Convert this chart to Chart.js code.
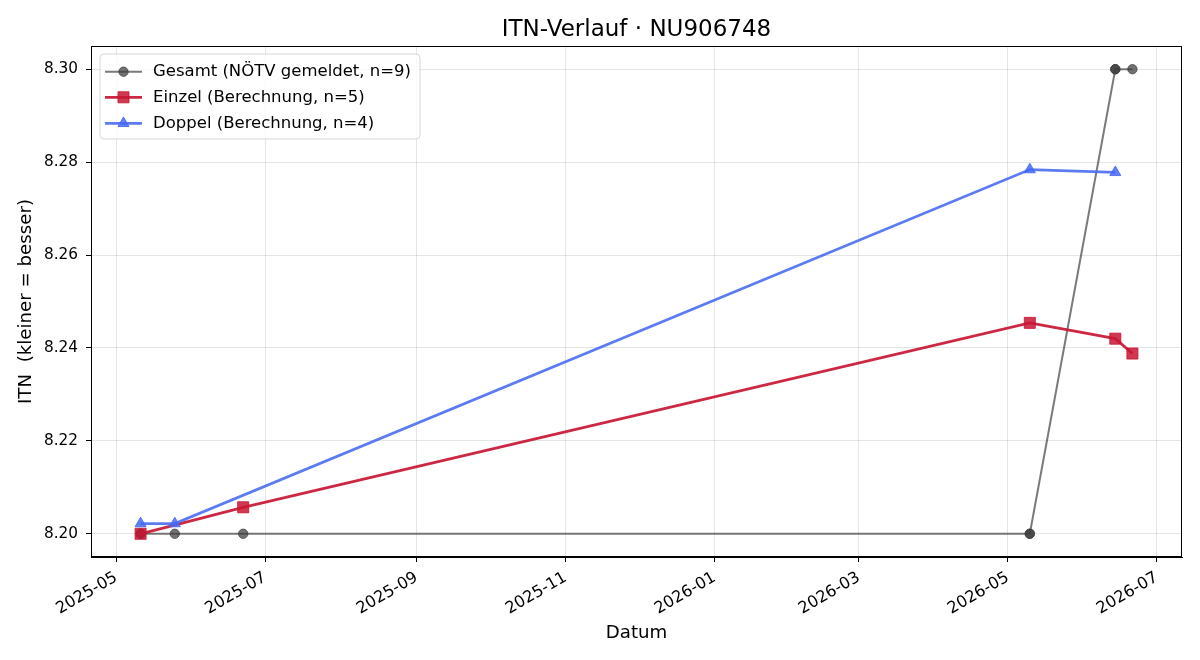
<!DOCTYPE html>
<html>
<head>
<meta charset="utf-8">
<title>ITN-Verlauf</title>
<script src="https://cdn.jsdelivr.net/npm/chart.js@4"></script>
<style>
  html, body { margin: 0; padding: 0; background: #fff; }
  #wrap { width: 1200px; height: 660px; }
</style>
</head>
<body>
<div id="wrap"><canvas id="chart" width="1200" height="660"></canvas></div>
<script>
// Werte
const titel = 'ITN-Verlauf · NU906748';

const gesamtDaten = ['2025-05-11', '2025-05-11', '2025-05-25', '2025-06-22', '2026-05-10', '2026-05-10', '2026-06-14', '2026-06-14', '2026-06-21'];
const gesamtWerte = [8.20, 8.20, 8.20, 8.20, 8.20, 8.20, 8.30, 8.30, 8.30];

const einzelDaten = ['2025-05-11', '2025-06-22', '2026-05-10', '2026-06-14', '2026-06-21'];
const einzelWerte = [8.2000, 8.2057, 8.2454, 8.2420, 8.2388];

const doppelDaten = ['2025-05-11', '2025-05-25', '2026-05-10', '2026-06-14'];
const doppelWerte = [8.2022, 8.2022, 8.2784, 8.2778];

const xTickLabels = ['2025-05', '2025-07', '2025-09', '2025-11', '2026-01', '2026-03', '2026-05', '2026-07'];
const yTicks = [8.20, 8.22, 8.24, 8.26, 8.28, 8.30];

const FONT = "'DejaVu Sans', 'Liberation Sans', sans-serif";

function zuMs(s) {
    return Date.parse(s + 'T00:00:00Z');
}

function punkte(daten, werte) {
    return daten.map((d, i) => ({ x: zuMs(d), y: werte[i] }));
}

// matplotlib-artige Ränder: 5% auf beiden Seiten
const alleX = [...gesamtDaten, ...einzelDaten, ...doppelDaten].map(zuMs);
const xLo = Math.min(...alleX);
const xHi = Math.max(...alleX);
const xRand = (xHi - xLo) * 0.05;
const alleY = [...gesamtWerte, ...einzelWerte, ...doppelWerte];
const yLo = Math.min(...alleY);
const yHi = Math.max(...alleY);
const yRand = (yHi - yLo) * 0.05;

const serien = [
    { label: 'Gesamt (NÖTV gemeldet, n=9)', linie: 'rgba(70,70,70,0.72)', punkt: 'rgba(60,60,60,0.72)', breite: 2, stil: 'circle', radius: 4.7 },
    { label: 'Einzel (Berechnung, n=5)', linie: 'rgba(200,22,52,0.92)', punkt: 'rgba(200,22,52,0.85)', breite: 2.8, stil: 'rect', radius: 7.8 },
    { label: 'Doppel (Berechnung, n=4)', linie: 'rgba(70,105,240,0.88)', punkt: 'rgba(70,105,240,0.85)', breite: 2.8, stil: 'triangle', radius: 6.4 }
];

// Legende oben links im Plotbereich, wie bei matplotlib
const legendePlugin = {
    id: 'legende',
    afterDraw(chart) {
        const ctx = chart.ctx;
        const x0 = 100, y0 = 54, w = 320, h = 85;
        ctx.save();
        ctx.beginPath();
        ctx.roundRect(x0, y0, w, h, 4);
        ctx.fillStyle = 'rgba(255,255,255,0.8)';
        ctx.fill();
        ctx.strokeStyle = '#d6d6d6';
        ctx.lineWidth = 1;
        ctx.stroke();
        const zeilen = [71.7, 97.3, 123.3];
        serien.forEach((s, i) => {
            const y = zeilen[i];
            ctx.beginPath();
            ctx.moveTo(105, y);
            ctx.lineTo(142, y);
            ctx.strokeStyle = s.linie;
            ctx.lineWidth = s.breite;
            ctx.stroke();
            ctx.fillStyle = s.punkt;
            ctx.strokeStyle = s.punkt;
            ctx.lineWidth = 1;
            Chart.helpers.drawPoint(ctx, { pointStyle: s.stil, radius: s.radius, borderWidth: 1 }, 123.5, y);
            ctx.fillStyle = '#000';
            ctx.font = '16.5px ' + FONT;
            ctx.textBaseline = 'middle';
            ctx.textAlign = 'left';
            ctx.fillText(s.label, 153, y);
        });
        ctx.restore();
    }
};

// Titel und Rahmen um den Plotbereich
const rahmenPlugin = {
    id: 'rahmen',
    afterDraw(chart) {
        const { ctx, chartArea: a } = chart;
        ctx.save();
        ctx.strokeStyle = '#000';
        ctx.lineWidth = 1;
        ctx.strokeRect(a.left + 0.5, a.top + 0.5, a.right - a.left - 1, a.bottom - a.top - 1);
        ctx.fillStyle = '#000';
        ctx.font = '23px ' + FONT;
        ctx.textAlign = 'center';
        ctx.textBaseline = 'alphabetic';
        ctx.fillText(titel, (a.left + a.right) / 2, 36);
        ctx.restore();
    }
};

new Chart(document.getElementById('chart'), {
    type: 'line',
    data: {
        datasets: [
            { data: punkte(gesamtDaten, gesamtWerte), order: 3 },
            { data: punkte(einzelDaten, einzelWerte), order: 2 },
            { data: punkte(doppelDaten, doppelWerte), order: 1 }
        ].map((ds, i) => Object.assign(ds, {
            label: serien[i].label,
            borderColor: serien[i].linie,
            borderWidth: serien[i].breite,
            backgroundColor: serien[i].punkt,
            pointBackgroundColor: serien[i].punkt,
            pointBorderColor: serien[i].punkt,
            pointBorderWidth: 1,
            pointStyle: serien[i].stil,
            pointRadius: serien[i].radius,
            pointHoverRadius: serien[i].radius,
            tension: 0,
            fill: false
        }))
    },
    options: {
        responsive: false,
        animation: false,
        devicePixelRatio: 1,
        layout: { padding: { left: 0, right: 18, top: 46, bottom: 0 } },
        plugins: {
            legend: { display: false },
            tooltip: { enabled: false },
            title: { display: false }
        },
        scales: {
            x: {
                type: 'linear',
                min: xLo - xRand,
                max: xHi + xRand,
                afterBuildTicks(scale) {
                    scale.ticks = xTickLabels.map(l => ({ value: zuMs(l + '-01') }));
                },
                afterFit(scale) { scale.height = 103; },
                ticks: {
                    autoSkip: false,
                    minRotation: 30,
                    maxRotation: 30,
                    padding: 6,
                    color: '#000',
                    font: { family: FONT, size: 16.2 },
                    callback(value) {
                        const d = new Date(value);
                        return d.getUTCFullYear() + '-' + String(d.getUTCMonth() + 1).padStart(2, '0');
                    }
                },
                grid: { color: 'rgba(0,0,0,0.1)', tickColor: '#000', tickLength: 5, lineWidth: 1 },
                border: { display: true, color: '#000' },
                title: {
                    display: true,
                    text: 'Datum',
                    color: '#000',
                    font: { family: FONT, size: 18.2 },
                    padding: { top: 0, bottom: 16 }
                }
            },
            y: {
                min: yLo - yRand,
                max: yHi + yRand,
                afterBuildTicks(scale) {
                    scale.ticks = yTicks.map(v => ({ value: v }));
                },
                afterFit(scale) { scale.width = 91; },
                ticks: {
                    padding: 8,
                    color: '#000',
                    font: { family: FONT, size: 15.3 },
                    callback: value => value.toFixed(2)
                },
                grid: { color: 'rgba(0,0,0,0.1)', tickColor: '#000', tickLength: 5, lineWidth: 1 },
                border: { display: true, color: '#000' },
                title: {
                    display: true,
                    text: 'ITN  (kleiner = besser)',
                    color: '#000',
                    font: { family: FONT, size: 18.2 },
                    padding: { top: 15, bottom: 0 }
                }
            }
        }
    },
    plugins: [rahmenPlugin, legendePlugin]
});
</script>
</body>
</html>
